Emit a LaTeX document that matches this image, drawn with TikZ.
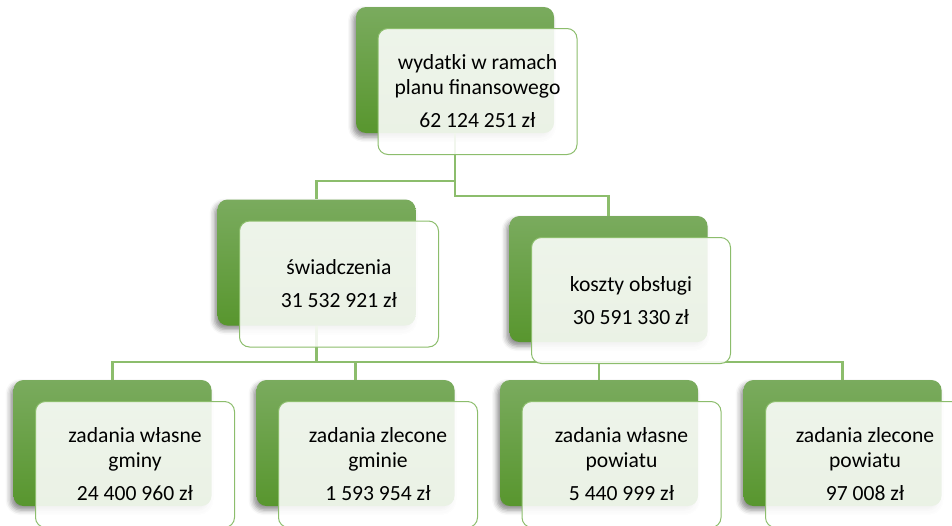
\documentclass[tikz,border=0pt]{standalone}
\usepackage{fontspec}
\setmainfont{Carlito}
\usepackage{tikz}
\usetikzlibrary{positioning,shadows.blur}
\definecolor{leaftop}{RGB}{122,171,94}
\definecolor{leafbot}{RGB}{88,150,46}
\definecolor{leafline}{RGB}{140,189,108}

\begin{document}
\begin{tikzpicture}[x=1pt,y=-1pt,on grid,
    back/.style={rounded corners=10pt,minimum width=198pt,minimum height=126pt,top color=leaftop,bottom color=leafbot,
        blur shadow={shadow xshift=-3pt,shadow yshift=-4pt,shadow blur radius=5pt,shadow opacity=45}},
    card/.style={rounded corners=10pt,minimum width=199pt,minimum height=126pt,inner sep=0pt,draw=leafline,line width=1pt,
        fill=white,fill opacity=0.88,text opacity=1,align=center,font=\fontsize{21.6}{25}\selectfont},
    elbow/.style={to path={-- ++(0,#1) -| (\tikztotarget)}},
    conn/.style={draw=leafline,line width=2.2pt}]
        \useasboundingbox (0,0) rectangle (952,525);

        % green back boxes
        \node[back] (b_0) at (455,70)    {};
        \node[back] (b_1) at (316.5,262.5) {};
        \node[back] (b_2) at (608.5,279) {};
        \node[back] (b_3) at (112.5,443) {};
        \node[back] (b_4) at (355.5,443) {};
        \node[back] (b_5) at (599,443)   {};
        \node[back] (b_6) at (842.5,443) {};

        \path[conn] (b_0.south) edge[elbow=48]   (b_1.north)
                    (b_0.south) edge[elbow=63]   (b_2.north)
                    (b_1.south) edge[elbow=36.5] (b_3.north)
                    (b_1.south) edge[elbow=36.5] (b_4.north)
                    (b_1.south) edge[elbow=36.5] (b_5.north)
                    (b_1.south) edge[elbow=36.5] (b_6.north);

        % text cards
        \node[card] (t_0) [below right=21.5pt and 22.5pt of b_0] {wydatki w ramach\\planu finansowego\\[8pt]62 124 251 zł};
        \node[card] (t_1) [below right=21.5pt and 22.5pt of b_1] {świadczenia\\[8pt]31 532 921 zł};
        \node[card] (t_2) [below right=21.5pt and 22.5pt of b_2] {koszty obsługi\\[8pt]30 591 330 zł};
        \node[card] (t_3) [below right=21.5pt and 22.5pt of b_3] {zadania własne\\gminy\\[8pt]24 400 960 zł};
        \node[card] (t_4) [below right=21.5pt and 22.5pt of b_4] {zadania zlecone\\gminie\\[8pt]1 593 954 zł};
        \node[card] (t_5) [below right=21.5pt and 22.5pt of b_5] {zadania własne\\powiatu\\[8pt]5 440 999 zł};
        \node[card] (t_6) [below right=21.5pt and 22.5pt of b_6] {zadania zlecone\\powiatu\\[8pt]97 008 zł};
\end{tikzpicture}
\end{document}
